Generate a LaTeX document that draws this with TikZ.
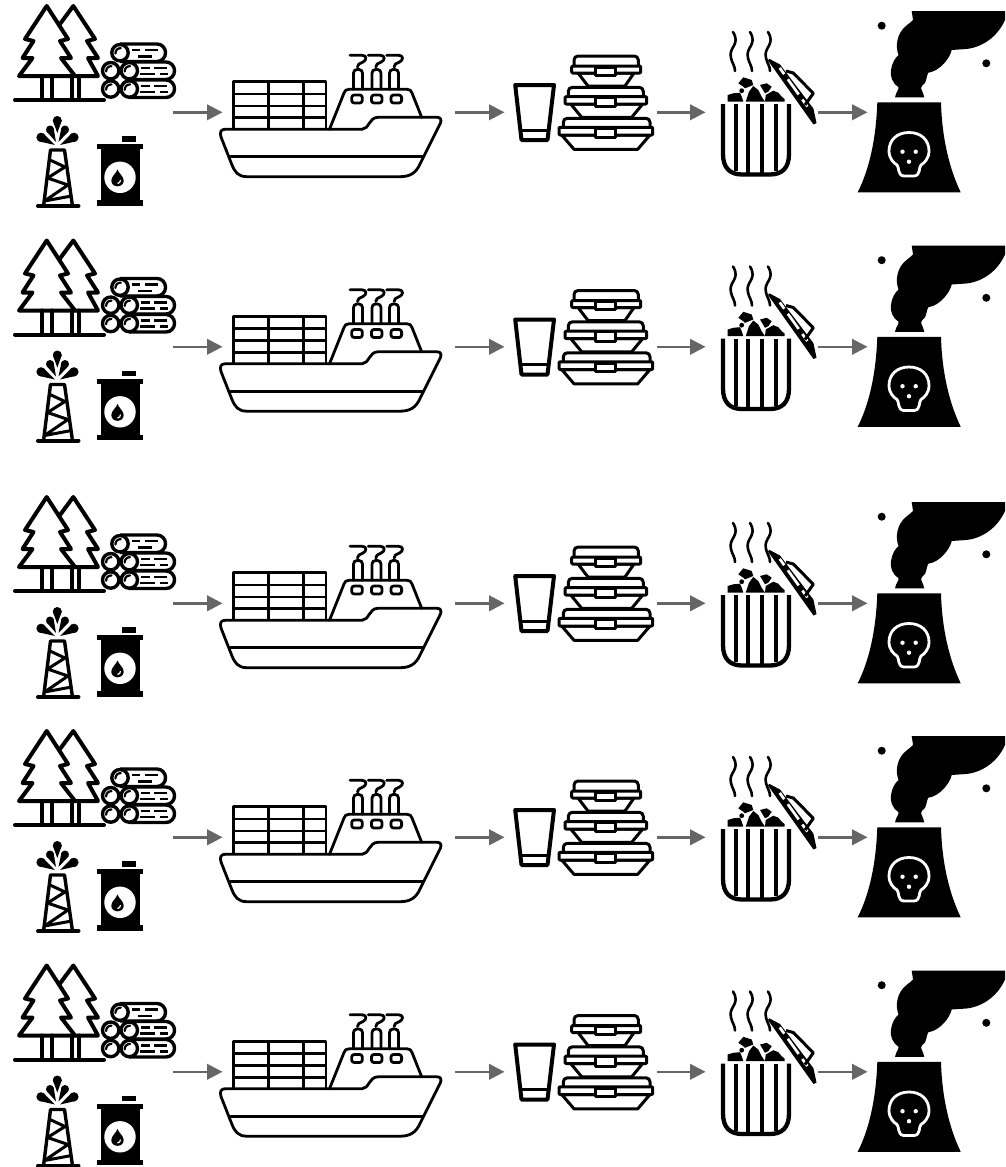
\documentclass[tikz,border=0pt]{standalone}
\usetikzlibrary{arrows.meta,calc}
\definecolor{flowgrey}{HTML}{666666}
\newcommand{\gdrop}[5]{%
  \fill (#1,#2) -- ($(#3,#4)!#5pt!90:(#1,#2)$) -- ($(#3,#4)!#5pt!-90:(#1,#2)$) -- cycle;
  \fill (#3,#4) circle (#5);}
\newcommand{\logend}[2]{%
  \draw[logline,fill=white] (#1,#2) circle (8.2);
  \draw[line width=2.2pt,line cap=round] (#1-4.6,#2+0.8) .. controls (#1-4.5,#2-2.5) and (#1-2.5,#2-4.5) .. (#1+0.8,#2-4.6);}
\tikzset{
  flowarrow/.style={draw=flowgrey,line width=2.5pt,-{Triangle[length=15.5pt,width=15.5pt,fill=flowgrey]}},
  heavy/.style={line width=4pt,line join=round,line cap=round},
  logline/.style={line width=3.4pt,line join=round},
  shipline/.style={line width=2.8pt,line join=round,line cap=round},
  boxline/.style={line width=3pt,line join=round},
  pics/forest/.style={code={
    \draw[heavy] (19,76) -- (32.5,58) -- (22.5,58) -- (33.5,41) -- (25,39) -- (46.7,6) -- (68,39) -- (60,41) -- (71,58) -- (61,58) -- (75,76) -- cycle;
    \draw[heavy] (60,24) -- (73.3,6) -- (95,39) -- (87,41) -- (98,58) -- (88,58) -- (98,76) -- (75,76);
    \draw[heavy] (41.5,76) -- (41.5,99) (51.5,76) -- (51.5,99) (72,76) -- (72,99) (79,76) -- (79,99);
    \draw[heavy] (15,100) -- (104,100);
  }},
  pics/logs/.style={code={
    \draw[logline,fill=white,rounded corners=8.5pt] (120,44) -- (165.5,44) -- (165.5,61.5) -- (120,61.5);
    \draw[logline,fill=white,rounded corners=8.5pt] (129,62) -- (174.5,62) -- (174.5,79.5) -- (129,79.5);
    \draw[logline,fill=white,rounded corners=8.5pt] (129,80) -- (174.5,80) -- (174.5,97.5) -- (129,97.5);
    \logend{120}{52.7}\logend{110.7}{70.7}\logend{129.3}{70.7}\logend{110.7}{89}\logend{129.3}{89}
    \draw[line width=2.6pt] (132,50) -- (140,50) (145,50) -- (158,50) (138,56.5) -- (152,56.5)
      (141,68) -- (150,68) (154,68) -- (167,68) (140,74) -- (155,74) (160,74) -- (168,74)
      (141,86) -- (150,86) (154,86) -- (167,86) (140,92) -- (155,92) (160,92) -- (168,92);
  }},
  pics/derrick/.style={code={
    \gdrop{57.3}{133}{57.3}{120.5}{4.5}
    \gdrop{56}{142}{50}{129.5}{4}
    \gdrop{58.5}{142}{65}{129.5}{4}
    \gdrop{55}{145}{41}{137.3}{4.6}
    \gdrop{60}{145}{74}{137.3}{4.6}
    \draw[line width=3.4pt,line join=round,line cap=round] (43.8,204) -- (50.5,150) -- (64.5,150) -- (72.2,204);
    \draw[line width=3pt,line join=round] (50,160) -- (65,167) -- (47.5,178) -- (68,185) -- (44.5,201) -- (71.5,196);
    \draw[heavy] (38,206) -- (78.5,206);
  }},
  pics/barrel/.style={code={
    \fill (122.3,136) rectangle (136,141.7);
    \fill (97.3,144) rectangle (142.7,149);
    \fill (101,149) rectangle (139.5,200);
    \fill (97.3,200) rectangle (142.7,205.6);
    \fill[white] (120,177.3) circle (15.7);
    \fill (117.5,169.5) .. controls (116.5,173) and (111.3,176.5) .. (111.3,180.5) .. controls (111.3,184) and (114,186.3) .. (117.5,186.3) .. controls (121,186.3) and (123.7,184) .. (123.7,180.5) .. controls (123.7,176.5) and (118.5,173) .. (117.5,169.5) -- cycle;
    \draw[white,line width=1.2pt] (120.5,180) .. controls (120.5,182) and (119.5,183) .. (117.5,183.5);
  }},
  pics/ship/.style={code={
    \draw[shipline,line cap=butt] (233.3,129.3) -- (233.3,81.7) -- (326,81.7) -- (326,129.3);
    \draw[shipline,line cap=butt] (233.3,94) -- (326,94) (233.3,106) -- (326,106) (233.3,117.7) -- (326,117.7)
      (268.3,81.7) -- (268.3,129.3) (303.3,81.7) -- (303.3,129.3);
    \draw[shipline,fill=white] (362,129.3) .. controls (369,129.3) and (369,117.3) .. (378,117.3)
      -- (437,117.3) .. controls (441,117.3) and (441.5,120) .. (440.5,123)
      -- (420,164) .. controls (416,173) and (410,176.7) .. (400,176.7)
      -- (247,176.7) .. controls (238,176.7) and (235,172) .. (232,165)
      -- (221,137) .. controls (219.5,132) and (221,129.3) .. (225,129.3) -- cycle;
    \draw[shipline] (230.5,156.7) -- (423.5,156.7);
    \draw[shipline] (329.5,129.3) -- (344,93) .. controls (345,90.5) and (346,89.3) .. (349,89.3)
      -- (407,89.3) .. controls (410,89.3) and (411,90.5) .. (412,93) -- (421.7,117.3);
    \foreach \cx in {357,376.7,396.3}{
      \draw[shipline,rounded corners=2.5pt] (\cx-5.3,95) rectangle (\cx+5.3,103);}
    \draw[shipline,rounded corners=3.5pt] (353.5,89.3) -- (353.5,69.5) -- (362.5,69.5) -- (362.5,89.3);
    \draw[shipline,rounded corners=3.5pt] (372,89.3) -- (372,69.5) -- (381,69.5) -- (381,89.3);
    \draw[shipline,rounded corners=3.5pt] (389.5,89.3) -- (389.5,69.5) -- (398.5,69.5) -- (398.5,89.3);
    \foreach \sx in {0,18.3,36.6}{
      \draw[shipline,xshift=\sx pt] (350,55.3) -- (362,55.3) .. controls (367,55.3) and (367,60) .. (363,62) .. controls (359,64) and (357.5,64) .. (357.5,67);}
  }},
  pics/cup/.style={code={
    \draw[heavy,line cap=butt] (515.2,85) -- (554,85) -- (547.5,140) -- (521.5,140) -- cycle;
    \draw[line width=3pt] (520,130) -- (549,130);
  }},
  pics/boxes/.style={code={
    % bowl ends, bowl foot, lid edges, rim edges, heights
    \foreach \xa/\xb/\xc/\xd/\la/\lb/\ra/\rb/\ya/\yb/\yc/\yd/\ka/\kb in {
      561.7/574/637.7/650/563.3/650/559/652.7/135/149.3/118.3/127.3/128.6/137.3,
      570.7/581.7/631.7/642.7/568.3/643.3/565/646.7/104/117.3/87.3/96.7/97.3/106.7,
      578/588/625/634/574/638.3/571.7/640.7/73/86/56/66/67.3/75.3}{
      \draw[boxline,fill=white] (\xa,\ya) -- (\xb,\yb) -- (\xc,\yb) -- (\xd,\ya) -- cycle;
      \draw[boxline,fill=white,rounded corners=4pt] (\la,\yd+0.5) -- (\la,\yc) -- (\lb,\yc) -- (\lb,\yd+0.5);
      \draw[boxline,fill=white,rounded corners=1pt] (\ra,\yd) rectangle (\rb,\ya);
      \draw[boxline,fill=white] (595.7,\ka) rectangle (615.7,\kb);
    }
  }},
  pics/bin/.style={code={
    \draw[line width=4.3pt,line join=round] (723,104) -- (723,154) .. controls (723,168) and (730,174.5) .. (742,174.5) -- (770,174.5) .. controls (782,174.5) and (789,168) .. (789,154) -- (789,104);
    \draw[line width=4.3pt] (735.7,104) -- (735.7,171) (748.3,104) -- (748.3,174) (762.3,104) -- (762.3,174) (775.7,104) -- (775.7,171);
    \foreach \wx in {0,17,35}{
      \draw[line width=2.6pt,line cap=round,xshift=\wx pt] (733,32) .. controls (741,45) and (728,47) .. (731,58) .. controls (732,63) and (735,66) .. (735,71);}
    \fill (727.7,101.7) -- (727.7,95) -- (733.3,93.3) -- (740,92.7) -- (741.7,96.7) -- (743.3,101.7) -- cycle;
    \fill (738.3,83.3) -- (743.3,77.3) -- (751.7,80) -- (753.3,85) -- (745,88.3) -- (743.3,86.7) -- cycle;
    \fill (745.7,101.7) -- (749,91.7) -- (753.3,86) -- (758.3,90) -- (761.7,96.7) -- (765,101.7) -- cycle;
    \fill (760,85) -- (766.7,83.3) -- (771.7,86.7) -- (768.3,91.7) -- (765,93.3) -- cycle;
    \fill (765,101.7) -- (765.7,95) -- (773.3,90.7) -- (778.3,92.7) -- (781.7,96.7) -- (784.5,99) -- (784.5,101.7) -- cycle;
    \fill (741.7,90.7) circle (2.4);
    \fill[even odd rule] (769.3,58.8) -- (780,64.5) -- (813.4,108.6) -- (816.5,123) -- (813.5,124.5) -- (768,60.5) -- cycle
      (778.42,68.68) -- (780.85,66.94) -- (785.49,73.42) -- (783.06,75.16) -- cycle
      (786.54,80.02) -- (788.97,78.28) -- (799.99,93.67) -- (797.56,95.41) -- cycle
      (801.04,100.27) -- (803.47,98.53) -- (808.69,105.82) -- (806.26,107.56) -- cycle;
    \draw[line width=3pt,line join=round] (786,71) -- (793.3,73) -- (813.3,93.3) -- (805,105);
  }},
  pics/plant/.style={code={
    \fill (877.3,102.3) -- (941,102.3) .. controls (942,140) and (950,170) .. (960.7,192.3) -- (857.7,192.3) .. controls (869,170) and (876,140) .. (877.3,102.3) -- cycle;
    \draw[white,line width=2.8pt,line join=round] (909,132.5) .. controls (897,132.5) and (889,140) .. (889,151) .. controls (889,159) and (894,163) .. (897,165) .. controls (899.5,167) and (897,175.5) .. (904,176) -- (914,176) .. controls (921,175.5) and (918.5,167) .. (921,165) .. controls (924,163) and (929,159) .. (929,151) .. controls (929,140) and (921,132.5) .. (909,132.5) -- cycle;
    \fill[white] (902.5,151.7) circle (2.2) (915.7,151.7) circle (2.2) (909,161.7) circle (2.2);
    \fill (895,97.3) .. controls (896,92) and (899,90) .. (898.5,87) .. controls (892,83) and (890,76) .. (891,70) .. controls (892,63) and (895,58) .. (898.5,55) .. controls (895,46) and (897,33) .. (906,26) .. controls (909,23) and (912,22) .. (913,20) -- (911.7,11) -- (1005,11) -- (1005,20) .. controls (998,36) and (982,49) .. (961.7,49.3) -- (951.7,50) .. controls (950,58) and (940,71) .. (928.3,72.7) .. controls (926,77) and (927,80) .. (925,83) .. controls (923,85) and (921,86) .. (921,88) .. controls (922,92) and (924,94) .. (924.3,97.3) -- cycle;
    \fill (881.7,25.7) circle (4) (986.3,63.3) circle (4);
  }},
  pics/row/.style={code={
    \pic {forest}; \pic {logs}; \pic {derrick}; \pic {barrel};
    \pic {ship}; \pic {cup}; \pic {boxes}; \pic {bin}; \pic {plant};
    \coordinate (-a1) at (173,112.3); \coordinate (-a2) at (222.5,112.3);
    \coordinate (-b1) at (455,112.3); \coordinate (-b2) at (504.5,112.3);
    \coordinate (-c1) at (657,112.3); \coordinate (-c2) at (705.5,112.3);
    \coordinate (-d1) at (818,112.3); \coordinate (-d2) at (867.5,112.3);
    \draw[flowarrow] (-a1) -- (-a2);
    \draw[flowarrow] (-b1) -- (-b2);
    \draw[flowarrow] (-c1) -- (-c2);
    \draw[flowarrow] (-d1) -- (-d2);
  }}
}
\begin{document}
\begin{tikzpicture}[x=1pt,y=-1pt]
\useasboundingbox (0,0) rectangle (1005,1167);
\fill[white] (0,0) rectangle (1005,1167);
\pic (r1) at (0,0) {row};
\pic (r2) at (0,234.5) {row};
\pic (r3) at (0,491) {row};
\pic (r4) at (0,725) {row};
\pic (r5) at (0,959.5) {row};
\end{tikzpicture}
\end{document}
